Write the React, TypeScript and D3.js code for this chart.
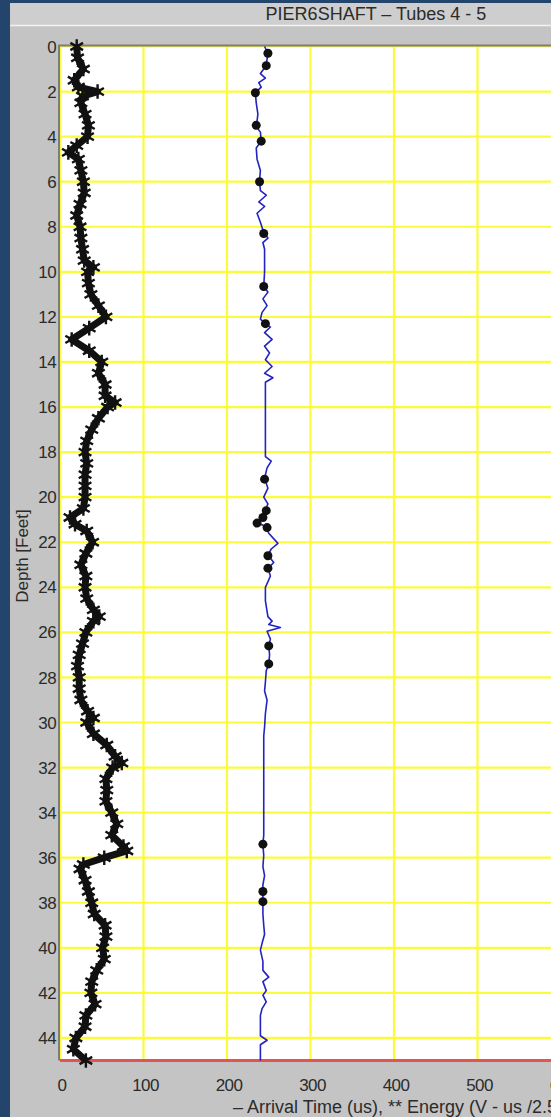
import { useEffect, useRef } from 'react';
import * as d3 from 'd3';

const W = 551;
const H = 1117;

const BG_BLUE = '#23456b';
const PANEL = '#c4c4c4';
const TITLE_BAR = '#cecece';
const GRID = '#fbfb3c';
const FRAME = '#7c7c7c';
const INK = '#2b2b2b';
const ARRIVAL_BLUE = '#2323bf';
const BOTTOM_RED = '#e05454';
const FONT = '"Liberation Sans", Arial, sans-serif';

const TITLE = 'PIER6SHAFT – Tubes 4 - 5';
const X_TITLE = '– Arrival Time (us), ** Energy (V - us /2.5)';
const Y_TITLE = 'Depth [Feet]';

const MAX_DEPTH = 45;
const DEPTH_TICKS = [0, 2, 4, 6, 8, 10, 12, 14, 16, 18, 20, 22, 24, 26, 28, 30, 32, 34, 36, 38, 40, 42, 44];
const VALUE_TICKS = [0, 100, 200, 300, 400, 500, 600];

// [depth (ft), energy]
const ENERGY: [number, number][] = [
  [0, 20], [0.5, 21], [1, 28], [1.5, 17], [1.8, 22], [2, 45], [2.2, 27], [2.5, 25],
  [3, 30], [3.5, 34], [4, 33], [4.4, 20], [4.7, 10], [5, 22], [5.5, 25], [6, 28],
  [6.5, 29], [7, 24], [7.5, 20], [8, 24], [8.5, 25], [9, 27], [9.5, 29], [9.8, 40],
  [10, 33], [10.5, 34], [11, 37], [11.5, 46], [12, 55], [12.5, 35], [13, 14], [13.5, 35],
  [14, 50], [14.5, 46], [15, 54], [15.5, 54], [15.8, 66], [16, 57], [16.5, 46], [17, 38],
  [17.5, 32], [18, 30], [18.5, 32], [19, 30], [19.5, 30], [20, 30], [20.5, 28], [20.9, 12],
  [21.2, 18], [21.5, 32], [22, 39], [22.5, 31], [23, 25], [23.5, 31], [24, 30], [24.5, 32],
  [25, 40], [25.3, 47], [25.5, 40], [26, 31], [26.5, 27], [27, 23], [27.5, 21], [28, 23],
  [28.5, 23], [29, 25], [29.5, 33], [29.8, 40], [30, 32], [30.5, 40], [31, 56], [31.5, 66],
  [31.8, 74], [32, 63], [32.5, 55], [33, 56], [33.5, 55], [34, 62], [34.5, 68], [35, 62],
  [35.5, 76], [35.7, 80], [36, 53], [36.3, 28], [36.5, 24], [37, 30], [37.5, 34], [38, 38],
  [38.5, 41], [39, 54], [39.5, 55], [40, 51], [40.5, 53], [41, 44], [41.5, 38], [42, 37],
  [42.5, 42], [43, 31], [43.5, 30], [44, 19], [44.5, 16], [45, 31],
];

// [depth (ft), arrival time (us)]
const ARRIVAL: [number, number][] = [
  [0, 245], [0.3, 249], [0.8, 247], [1, 244], [1.2, 240], [1.4, 246], [1.6, 238], [1.8, 241],
  [2.05, 234], [2.5, 235], [3, 237], [3.3, 236], [3.55, 235], [3.8, 240], [4.2, 241], [4.5, 235],
  [5, 236], [5.5, 240], [5.95, 239], [6.4, 240], [6.6, 247], [6.9, 238], [7.1, 245], [7.4, 236],
  [7.8, 240], [8.25, 244], [8.5, 249], [8.7, 243], [9, 245], [9.5, 245], [10, 245], [10.66, 244],
  [10.9, 249], [11.2, 243], [11.5, 248], [11.8, 242], [12.1, 240], [12.3, 246], [12.45, 252],
  [12.7, 245], [13, 254], [13.3, 245], [13.6, 251], [13.9, 246], [14.2, 254], [14.5, 245],
  [14.7, 255], [14.9, 246], [15.5, 246], [16.5, 246], [17.5, 246], [18.2, 246], [18.4, 253],
  [18.7, 248], [19.16, 245], [19.6, 249], [20, 244], [20.3, 249], [20.57, 246], [20.9, 242],
  [21.1, 235], [21.3, 246], [21.6, 250], [22.05, 261], [22.3, 253], [22.57, 249], [22.9, 256],
  [23.16, 249], [23.5, 252], [24, 246], [24.6, 246], [25.3, 249], [25.5, 254], [25.65, 250],
  [25.78, 264], [25.95, 248], [26.3, 252], [26.6, 250], [27, 251], [27.4, 250], [27.7, 247],
  [28.2, 246], [28.6, 245], [29, 248], [29.6, 246], [30.2, 245], [30.6, 244], [31, 244],
  [32, 244], [33, 244], [34, 244], [35, 244], [35.4, 243], [35.9, 244], [36.4, 243],
  [36.8, 245], [37.2, 243], [37.5, 243], [37.95, 243], [38.5, 243], [39, 244], [39.4, 245],
  [39.8, 242], [40.1, 240], [40.6, 243], [41, 243], [41.3, 250], [41.5, 243], [41.9, 247],
  [42.1, 243], [42.4, 247], [42.7, 242], [43, 240], [43.5, 240], [43.9, 240], [44.1, 248],
  [44.3, 240], [45, 240],
];

// flagged arrival readings, drawn as dots
const ARRIVAL_FLAGS: [number, number][] = [
  [0.3, 249], [0.85, 247], [2.05, 234], [3.5, 235], [4.2, 241], [6, 239], [8.3, 244],
  [10.65, 244], [12.3, 246], [19.2, 245], [20.6, 247], [20.9, 243], [21.15, 236], [21.35, 248],
  [22.6, 249], [23.15, 249], [26.6, 250], [27.4, 250], [35.4, 243], [37.5, 243], [37.95, 243],
];

export default function App() {
  const ref = useRef<SVGSVGElement>(null);

  useEffect(() => {
    const svg = d3.select(ref.current);
    if (!svg.node()) return;
    svg.selectAll('*').remove();

    const plot = { left: 60, top: 46.5, right: W + 20, bottom: 1060.5 };
    const x = d3.scaleLinear().domain([0, 600]).range([plot.left, plot.left + 501]);
    const y = d3.scaleLinear().domain([0, MAX_DEPTH]).range([plot.top, plot.bottom]);

    // backdrop + window chrome
    svg.append('rect').attr('width', W).attr('height', H).attr('fill', BG_BLUE);
    svg.append('rect').attr('x', 10).attr('y', 3).attr('width', W - 10).attr('height', H - 3).attr('fill', PANEL);
    svg.append('rect').attr('x', 10).attr('y', 3).attr('width', W - 10).attr('height', 22).attr('fill', TITLE_BAR);
    svg.append('line')
      .attr('x1', 10).attr('x2', W).attr('y1', 25.5).attr('y2', 25.5)
      .attr('stroke', '#f2f2f2').attr('stroke-width', 1.5);

    svg.append('text')
      .attr('x', 376).attr('y', 20)
      .attr('text-anchor', 'middle')
      .attr('fill', INK).attr('font-family', FONT).attr('font-size', 18)
      .text(TITLE);

    svg.append('rect')
      .attr('x', plot.left).attr('y', plot.top)
      .attr('width', plot.right - plot.left).attr('height', plot.bottom - plot.top)
      .attr('fill', '#ffffff');

    const g = svg.append('g');

    // grid
    g.selectAll('line.hgrid')
      .data(DEPTH_TICKS)
      .join('line')
      .attr('class', 'hgrid')
      .attr('x1', plot.left).attr('x2', plot.right)
      .attr('y1', (d) => y(d)).attr('y2', (d) => y(d))
      .attr('stroke', GRID).attr('stroke-width', 2.2);

    g.selectAll('line.vgrid')
      .data(VALUE_TICKS)
      .join('line')
      .attr('class', 'vgrid')
      .attr('x1', (d) => x(d)).attr('x2', (d) => x(d))
      .attr('y1', plot.top).attr('y2', plot.bottom)
      .attr('stroke', GRID).attr('stroke-width', 2.2);

    g.append('line')
      .attr('x1', plot.left).attr('x2', plot.right)
      .attr('y1', y(MAX_DEPTH)).attr('y2', y(MAX_DEPTH))
      .attr('stroke', BOTTOM_RED).attr('stroke-width', 3.2);

    // frame (top + left)
    g.append('path')
      .attr('d', `M${plot.left - 1},${plot.bottom} V${plot.top - 1} H${plot.right}`)
      .attr('fill', 'none').attr('stroke', FRAME).attr('stroke-width', 2);

    // energy: thick black trace with asterisk markers
    const energyLine = d3.line<[number, number]>()
      .x((d) => x(d[1]))
      .y((d) => y(d[0]));

    g.append('path')
      .datum(ENERGY)
      .attr('d', energyLine)
      .attr('fill', 'none').attr('stroke', '#111').attr('stroke-width', 7)
      .attr('stroke-linejoin', 'round');

    const star = d3.symbol().type(d3.symbolAsterisk).size(150);
    g.selectAll('path.star')
      .data(ENERGY)
      .join('path')
      .attr('class', 'star')
      .attr('transform', (d) => `translate(${x(d[1])},${y(d[0])})`)
      .attr('d', star)
      .attr('fill', 'none').attr('stroke', '#111').attr('stroke-width', 2.4);

    // arrival time
    const arrivalLine = d3.line<[number, number]>()
      .x((d) => x(d[1]))
      .y((d) => y(d[0]));

    g.append('path')
      .datum(ARRIVAL)
      .attr('d', arrivalLine)
      .attr('fill', 'none').attr('stroke', ARRIVAL_BLUE).attr('stroke-width', 1.6)
      .attr('stroke-linejoin', 'round');

    g.selectAll('circle.flag')
      .data(ARRIVAL_FLAGS)
      .join('circle')
      .attr('class', 'flag')
      .attr('cx', (d) => x(d[1]))
      .attr('cy', (d) => y(d[0]))
      .attr('r', 4.5)
      .attr('fill', '#111');

    // tick labels
    svg.append('g')
      .selectAll('text')
      .data(DEPTH_TICKS)
      .join('text')
      .attr('x', plot.left - 4)
      .attr('y', (d) => y(d))
      .attr('dy', '0.36em')
      .attr('text-anchor', 'end')
      .attr('fill', INK).attr('font-family', FONT).attr('font-size', 17)
      .attr('letter-spacing', -0.6)
      .text((d) => String(d));

    svg.append('g')
      .selectAll('text')
      .data(VALUE_TICKS)
      .join('text')
      .attr('x', (d) => x(d) + 2)
      .attr('y', 1091)
      .attr('text-anchor', 'middle')
      .attr('fill', INK).attr('font-family', FONT).attr('font-size', 17)
      .attr('letter-spacing', -0.6)
      .text((d) => String(d));

    svg.append('text')
      .attr('x', 233).attr('y', 1113)
      .attr('fill', INK).attr('font-family', FONT).attr('font-size', 18)
      .text(X_TITLE);

    svg.append('text')
      .attr('transform', 'translate(28,556) rotate(-90)')
      .attr('text-anchor', 'middle')
      .attr('fill', INK).attr('font-family', FONT).attr('font-size', 17)
      .text(Y_TITLE);
  }, []);

  return (
    <svg
      ref={ref}
      width={W}
      height={H}
      style={{ position: 'absolute', left: 0, top: 0, display: 'block' }}
    />
  );
}
